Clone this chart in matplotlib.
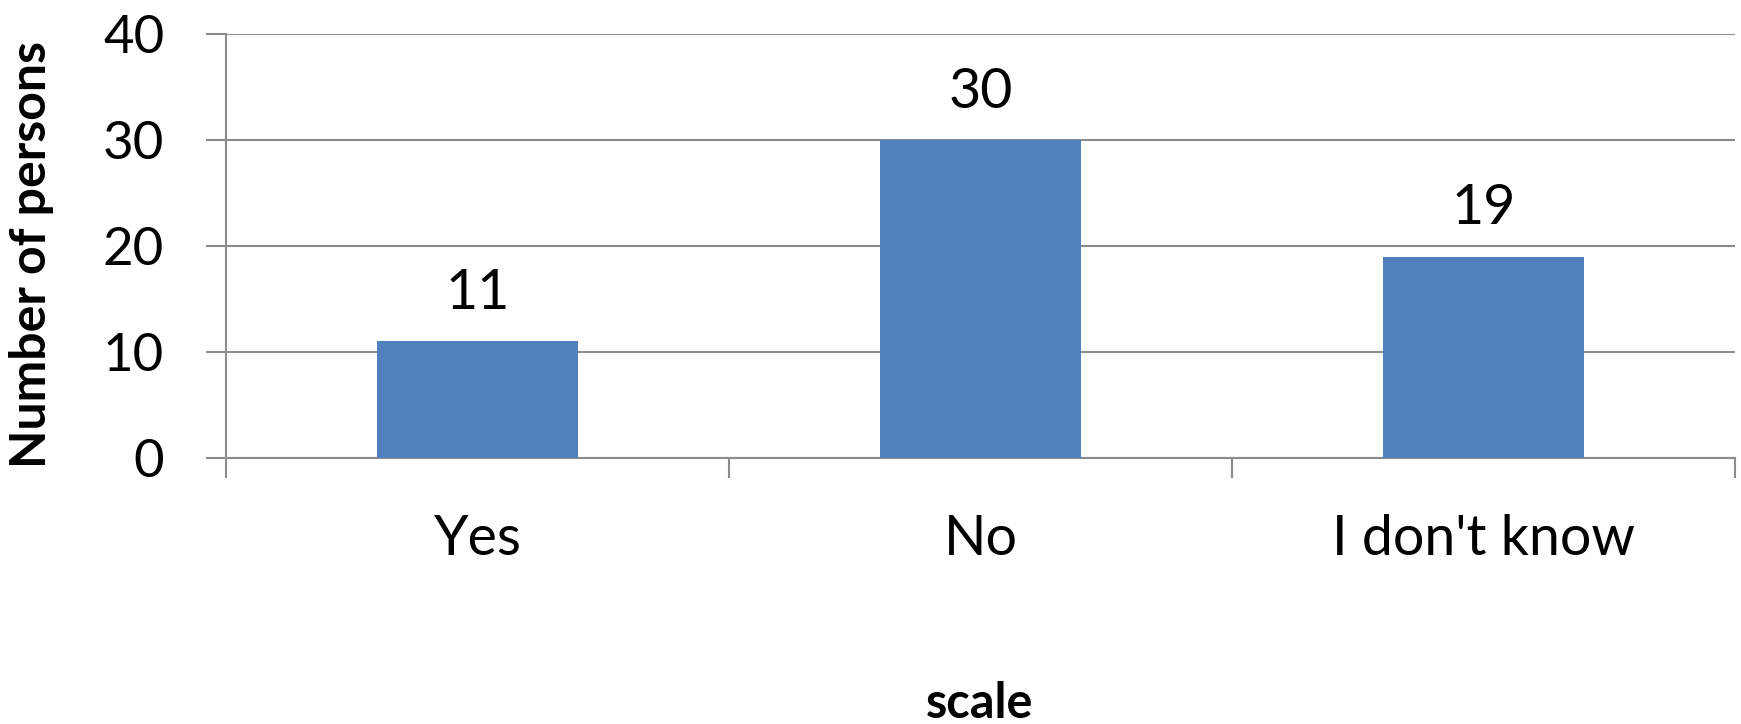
import matplotlib
matplotlib.use('Agg')
import matplotlib.pyplot as plt
import numpy as np

categorias = ['Yes', 'No', "I don't know"]
personas = [11, 30, 19]

plt.rcParams['font.family'] = ['Lato', 'DejaVu Sans']

fig = plt.figure(figsize=(17.41, 7.24), dpi=100)
ax = fig.add_axes([0.1298, 0.3674, 0.8668, 0.5856])

x = np.arange(len(categorias))
barras = ax.bar(x, personas, width=0.4, color='#4F81BD', zorder=3)

for b, v in zip(barras, personas):
    ax.text(b.get_x() + b.get_width() / 2, v + 4.5, str(v),
            ha='center', va='center', fontsize=40)

ax.set_xlim(-0.5, len(categorias) - 0.5)
ax.set_ylim(0, 40)
ax.set_yticks([0, 10, 20, 30, 40])
ax.yaxis.grid(True, color='#8c8c8c', linewidth=1.5, zorder=0)

# etiquetas en el centro, marcas en los limites de cada categoria
ax.set_xticks(x)
ax.set_xticklabels(categorias, fontsize=40)
ax.set_xticks(np.arange(-0.5, len(categorias)), minor=True)
ax.tick_params(axis='x', which='major', length=0, pad=40)
ax.tick_params(axis='x', which='minor', length=14.5, width=1.5, color='#8c8c8c')
ax.tick_params(axis='y', length=14.5, width=1.5, color='#8c8c8c', labelsize=38, pad=30)

for s in ['top', 'right']:
    ax.spines[s].set_visible(False)
for s in ['left', 'bottom']:
    ax.spines[s].set_color('#8c8c8c')
    ax.spines[s].set_linewidth(1.5)

ax.set_ylabel('Number of persons', fontsize=36, fontweight='bold')
ax.yaxis.set_label_coords(-0.114, 0.479)
fig.text(0.5625, 0.029, 'scale', ha='center', va='center', fontsize=35, fontweight='bold')

fig.savefig('out.png', dpi=100)
